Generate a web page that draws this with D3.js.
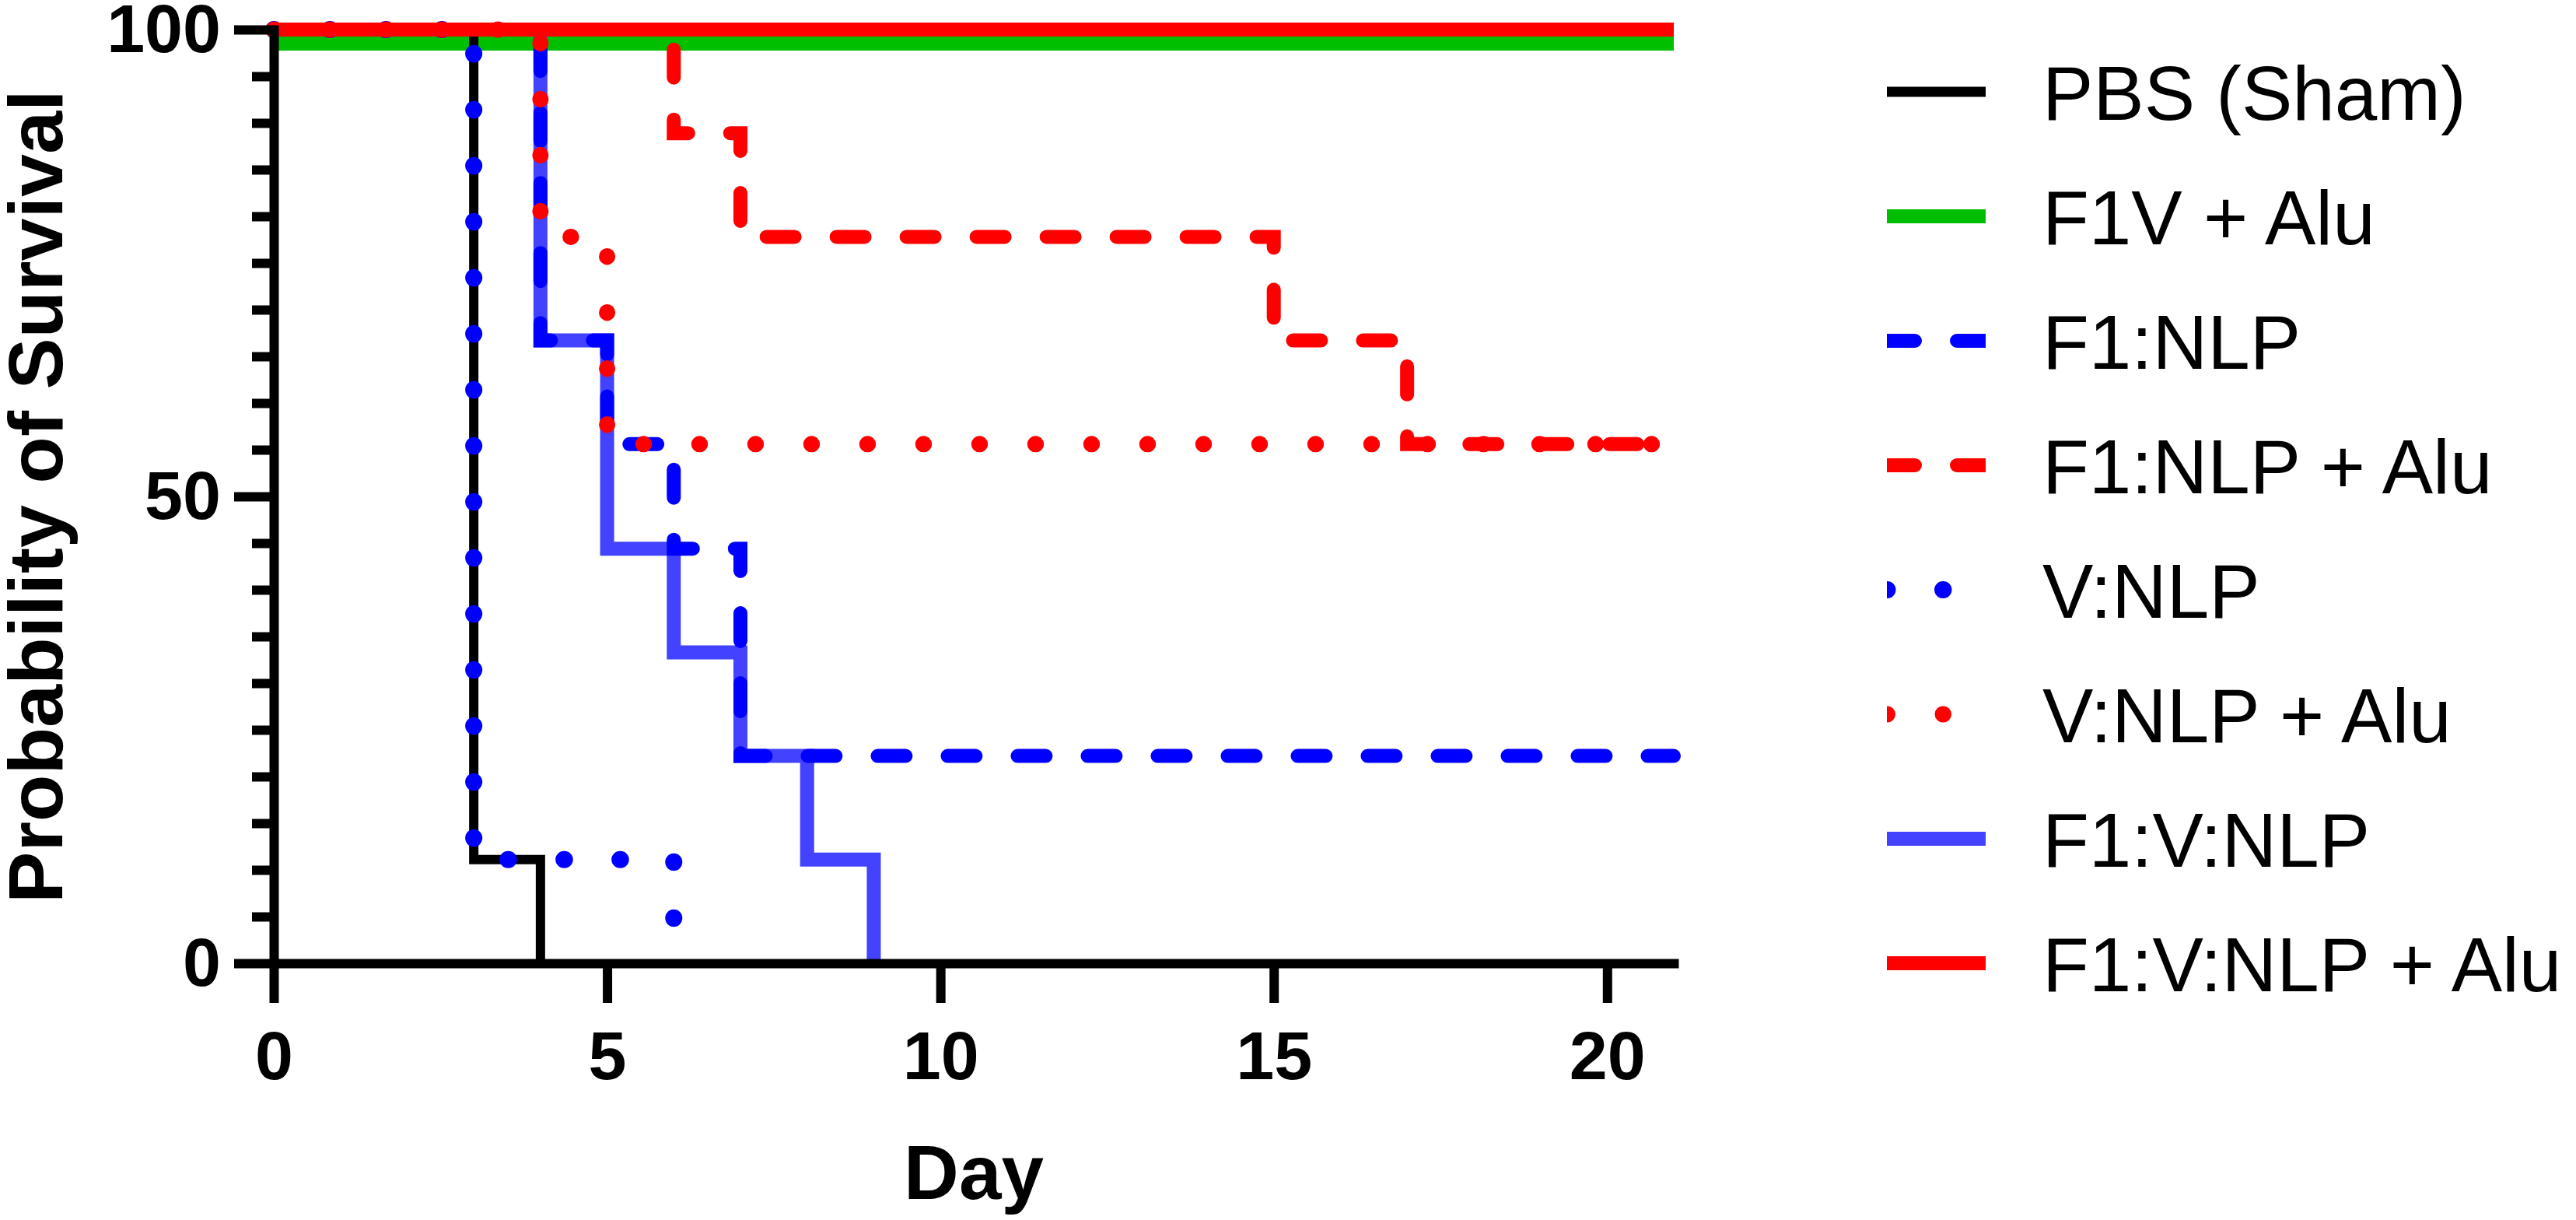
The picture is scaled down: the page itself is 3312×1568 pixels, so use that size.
<!DOCTYPE html>
<html>
<head>
<meta charset="utf-8">
<script src="https://cdn.jsdelivr.net/npm/d3@7"></script>
<style>
  html, body { margin: 0; padding: 0; background: #fff; }
  svg { display: block; }
  text { font-family: "Liberation Sans", Arial, Helvetica, sans-serif; fill: #000; }
</style>
</head>
<body>
<svg id="chart" width="3312" height="1568"></svg>
<script>
// ---------- Data (Kaplan-Meier steps: [day, % survival]) ----------
const seriesNames = ["PBS (Sham)", "F1V + Alu", "F1:NLP", "F1:NLP + Alu", "V:NLP", "V:NLP + Alu", "F1:V:NLP", "F1:V:NLP + Alu"];
const pbsSham   = [[0, 100], [3, 11.1], [4, 0]];
const f1vAlu    = [[0, 100], [21, 100]];
const f1Nlp     = [[0, 100], [4, 66.7], [5, 55.6], [6, 44.4], [7, 22.2], [21, 22.2]];
const f1NlpAlu  = [[0, 100], [6, 88.9], [7, 77.8], [15, 66.7], [17, 55.6], [21, 55.6]];
const vNlp      = [[0, 100], [3, 11.1], [6, 0]];
const vNlpAlu   = [[0, 100], [4, 77.8], [5, 55.6], [21, 55.6]];
const f1vNlp    = [[0, 100], [4, 66.7], [5, 44.4], [6, 33.3], [7, 22.2], [8, 11.1], [9, 0]];
const f1vNlpAlu = [[0, 100], [21, 100]];
const xTicks = [0, 5, 10, 15, 20];
const yTicks = [0, 50, 100];
const yMinorTicks = d3.range(0, 101, 5);

// ---------- Styles ----------
const styles = {
  "PBS (Sham)":     { data: pbsSham,   color: "#000000", width: 12, dash: null, cap: "butt" , legendWidth: 13},
  "F1V + Alu":      { data: f1vAlu,    color: "#00BE00", width: 18, dash: null, cap: "butt", offset: 18 },
  "F1:NLP":         { data: f1Nlp,     color: "#0000FF", width: 18, dash: "36,54", cap: "round" },
  "F1:NLP + Alu":   { data: f1NlpAlu,  color: "#FF0000", width: 18, dash: "36,54", cap: "round" },
  "V:NLP":          { data: vNlp,      color: "#0000FF", width: 22, dash: "0.5,71.5", cap: "round" },
  "V:NLP + Alu":    { data: vNlpAlu,   color: "#FF0000", width: 21, dash: "0.5,71.5", cap: "round" },
  "F1:V:NLP":       { data: f1vNlp,    color: "#4242FF", width: 18, dash: null, cap: "butt" },
  "F1:V:NLP + Alu": { data: f1vNlpAlu, color: "#FF0000", width: 18, dash: null, cap: "butt" }
};
const drawOrder = ["F1V + Alu", "F1:V:NLP", "PBS (Sham)", "F1:NLP", "V:NLP", "V:NLP + Alu", "F1:NLP + Alu", "F1:V:NLP + Alu"];

// ---------- Layout ----------
const svg = d3.select("#chart");
const x = d3.scaleLinear().domain([0, 21]).range([352, 2152]);
const y = d3.scaleLinear().domain([0, 100]).range([1238, 38]);

const line = d3.line()
  .x(d => x(d[0]))
  .y(d => y(d[1]))
  .curve(d3.curveStepAfter);

// ---------- Curves ----------
const curves = svg.append("g").attr("class", "curves");
drawOrder.forEach(name => {
  const s = styles[name];
  curves.append("path")
    .datum(s.data)
    .attr("d", line)
    .attr("fill", "none")
    .attr("stroke", s.color)
    .attr("stroke-width", s.width)
    .attr("stroke-linecap", s.cap)
    .attr("stroke-linejoin", "miter")
    .attr("stroke-dasharray", s.dash)
    .attr("transform", s.offset ? `translate(0,${s.offset})` : null);
});

// ---------- Axes ----------
const axisStroke = 12;
const yMinor = svg.append("g")
  .attr("transform", `translate(${x(0)},0)`)
  .call(d3.axisLeft(y).tickValues(yMinorTicks.filter(v => yTicks.indexOf(v) < 0)).tickSize(28).tickFormat(""));
yMinor.select(".domain").remove();
yMinor.selectAll(".tick line").attr("stroke", "#000").attr("stroke-width", axisStroke);

const yAxis = svg.append("g")
  .attr("transform", `translate(${x(0)},0)`)
  .call(d3.axisLeft(y).tickValues(yTicks).tickSize(51).tickSizeOuter(0).tickPadding(17));
yAxis.select(".domain").attr("stroke", "#000").attr("stroke-width", axisStroke).attr("stroke-linecap", "square");
yAxis.selectAll(".tick line").attr("stroke", "#000").attr("stroke-width", axisStroke);
yAxis.selectAll(".tick text")
  .attr("font-family", "Liberation Sans, Arial, sans-serif")
  .attr("font-size", 88).attr("font-weight", "bold").attr("fill", "#000");

const xAxis = svg.append("g")
  .attr("transform", `translate(0,${y(0)})`)
  .call(d3.axisBottom(x).tickValues(xTicks).tickSize(51).tickSizeOuter(0).tickPadding(36));
xAxis.select(".domain").attr("stroke", "#000").attr("stroke-width", axisStroke).attr("stroke-linecap", "square");
xAxis.selectAll(".tick line").attr("stroke", "#000").attr("stroke-width", axisStroke);
xAxis.selectAll(".tick text")
  .attr("font-family", "Liberation Sans, Arial, sans-serif")
  .attr("font-size", 88).attr("font-weight", "bold").attr("fill", "#000");

// ---------- Axis titles ----------
svg.append("text")
  .attr("transform", "rotate(-90)")
  .attr("x", -(y(0) + y(100)) / 2)
  .attr("y", 80)
  .attr("text-anchor", "middle")
  .attr("font-size", 99)
  .attr("font-weight", "bold")
  .text("Probability of Survival");

svg.append("text")
  .attr("x", (x(0) + x(21)) / 2)
  .attr("y", 1541)
  .attr("text-anchor", "middle")
  .attr("font-size", 98)
  .attr("font-weight", "bold")
  .text("Day");

// ---------- Legend ----------
const legX0 = 2426, legX1 = 2553, legTextX = 2626, legY0 = 118, legStep = 160;
svg.append("defs").append("clipPath").attr("id", "legclip")
  .append("rect").attr("x", legX0).attr("y", 0).attr("width", legX1 - legX0).attr("height", 1568);

const legend = svg.append("g").attr("class", "legend");
seriesNames.forEach((name, i) => {
  const s = styles[name];
  const cy = legY0 + i * legStep;
  legend.append("line")
    .attr("x1", legX0).attr("x2", legX1 + 20)
    .attr("y1", cy).attr("y2", cy)
    .attr("stroke", s.color)
    .attr("stroke-width", s.legendWidth || s.width)
    .attr("stroke-linecap", s.cap)
    .attr("stroke-dasharray", s.dash)
    .attr("clip-path", "url(#legclip)");
  legend.append("text")
    .attr("x", legTextX)
    .attr("y", cy + 36)
    .attr("font-size", 98)
    .text(name);
});
</script>
</body>
</html>
